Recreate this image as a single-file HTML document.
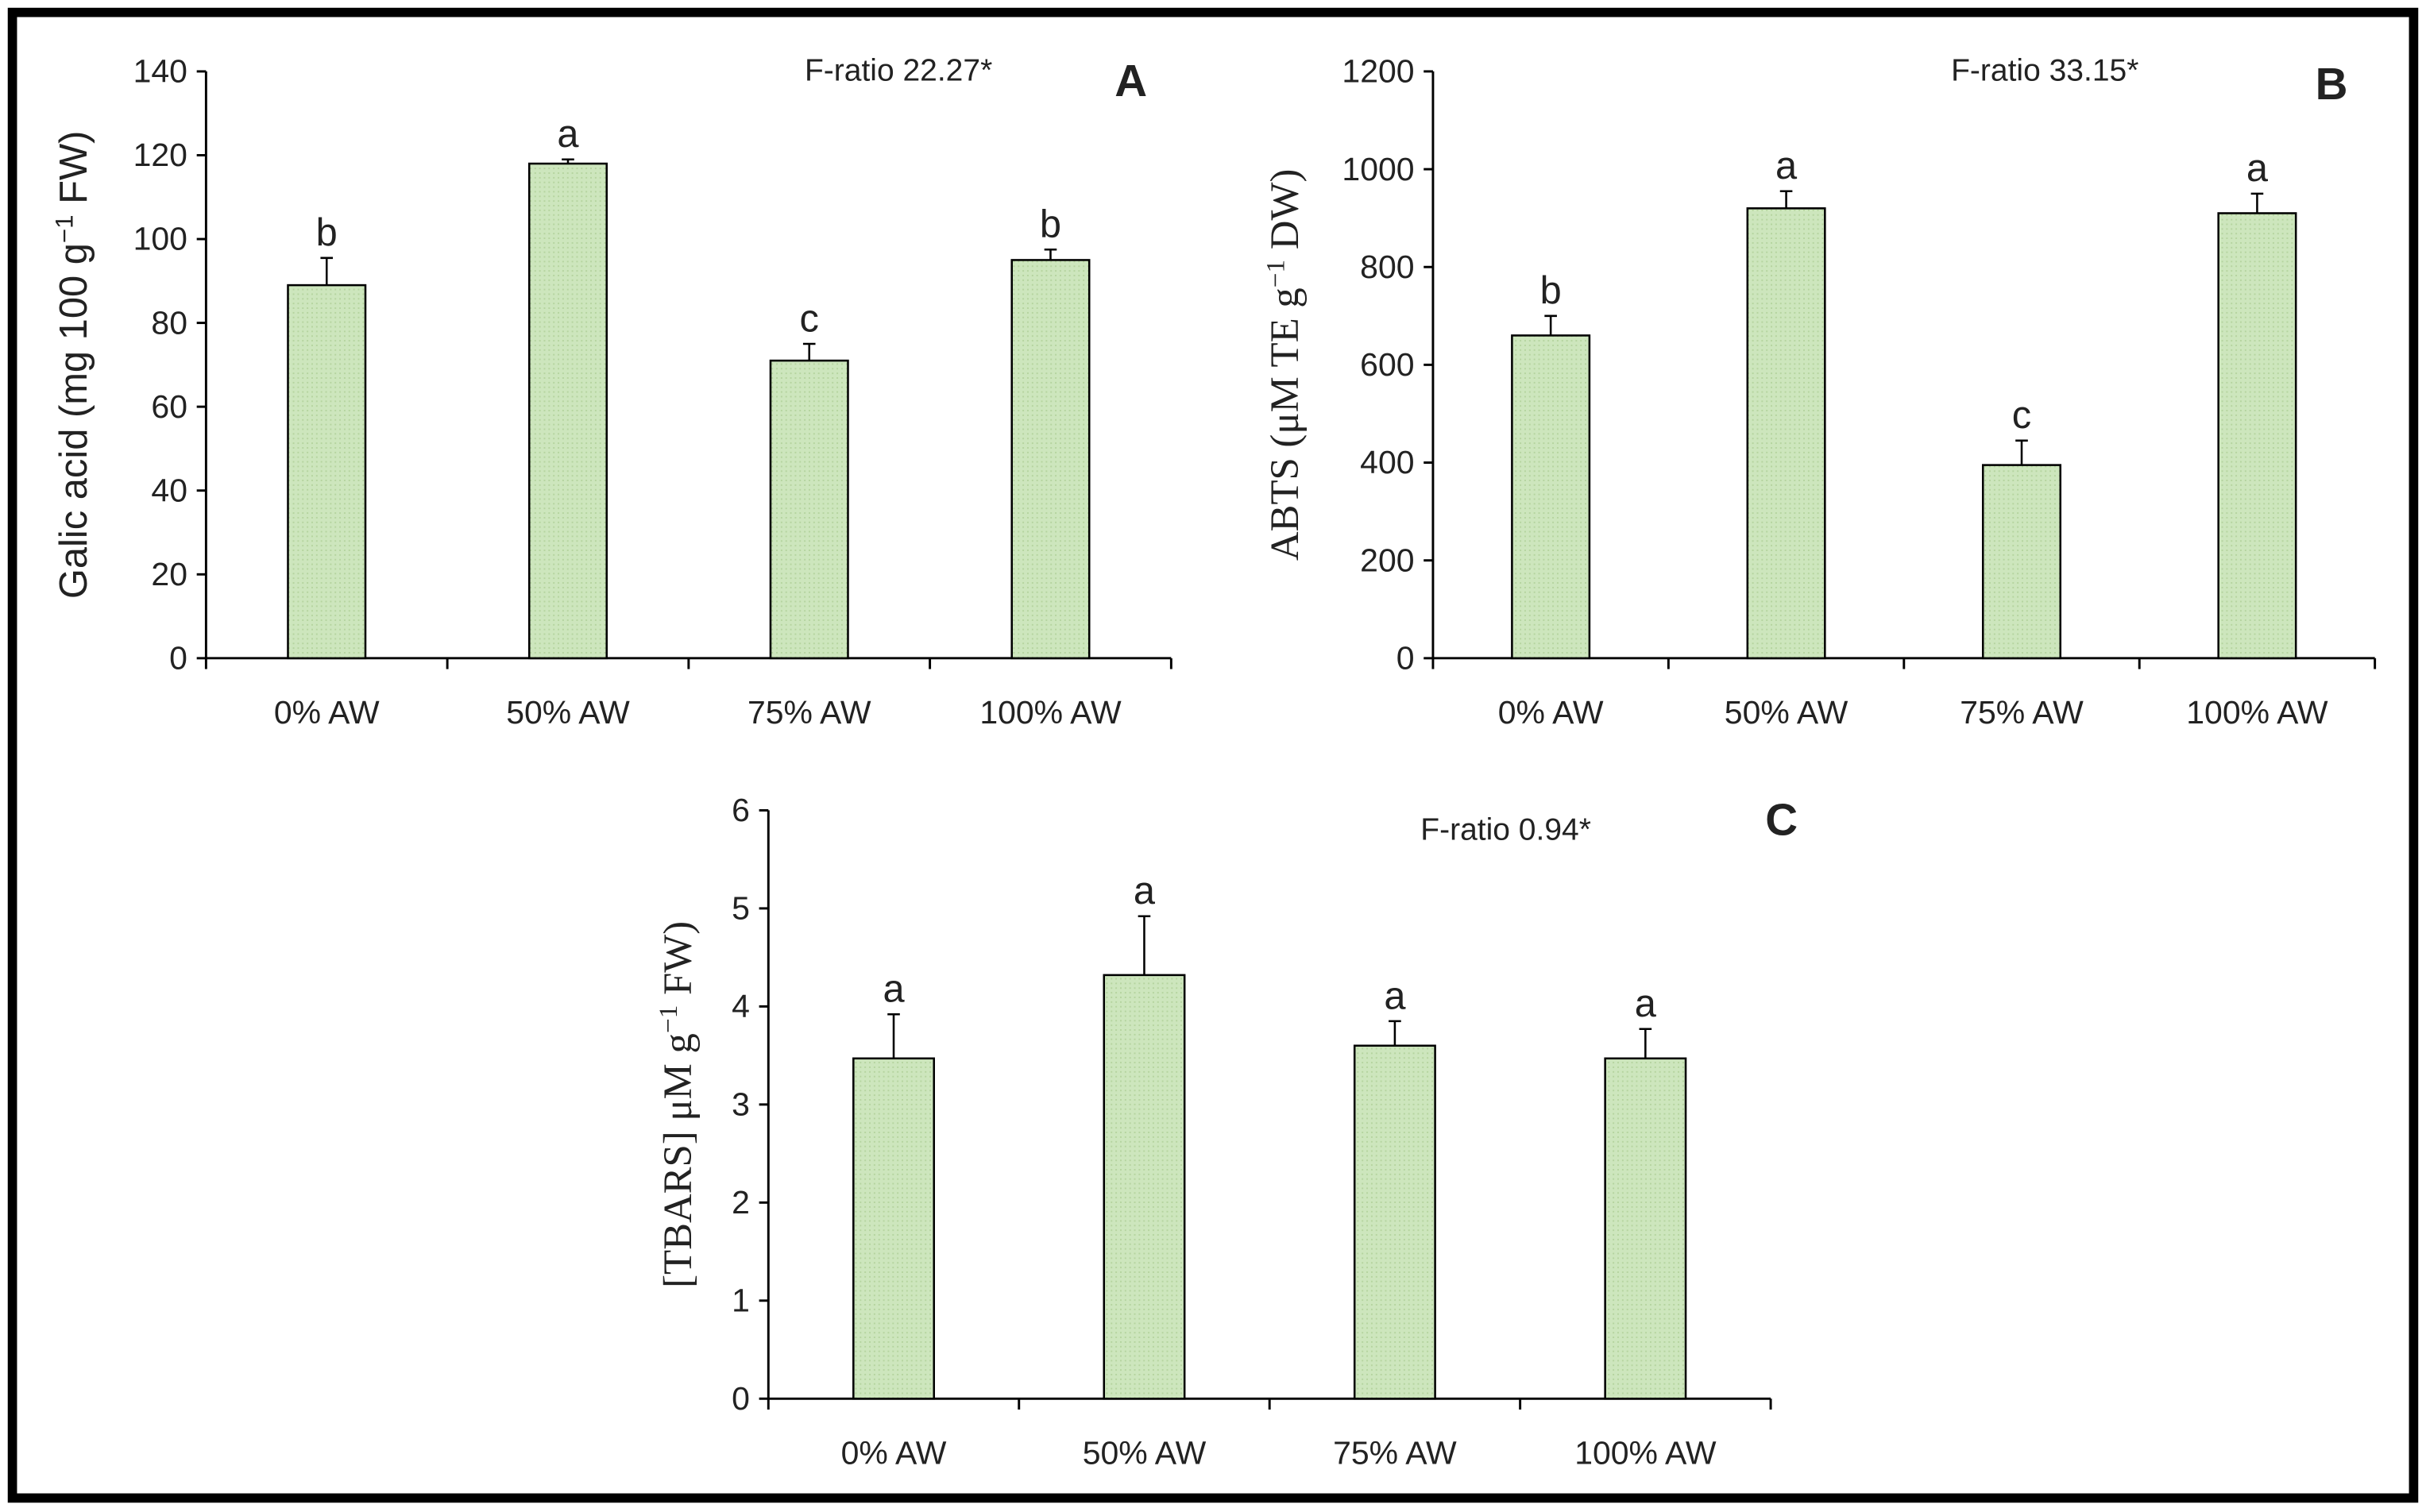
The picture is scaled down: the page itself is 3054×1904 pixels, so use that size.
<!DOCTYPE html>
<html><head><meta charset="utf-8"><style>
html,body{margin:0;padding:0;background:#fff}
svg{display:block}
text{font-family:"Liberation Sans Narrow","Liberation Sans",sans-serif;fill:#222}
.serif{font-family:"Liberation Serif",serif}
</style></head><body>
<svg id="fig" width="3054" height="1904" viewBox="0 0 1566 974" preserveAspectRatio="none" xmlns="http://www.w3.org/2000/svg">
<defs>
<pattern id="hatch" width="3" height="3" patternUnits="userSpaceOnUse">
<rect width="3" height="3" fill="#cde6bd"/><rect width="1" height="1" fill="#b5d49f"/>
</pattern>
</defs>
<rect x="8" y="8" width="1550" height="957" fill="#fff" stroke="#000" stroke-width="6"/>
<g id="chartA"></g>
<g id="chartB"></g>
<g id="chartC"></g>
</svg>
<script>
const categories = ["0% AW","50% AW","75% AW","100% AW"];
const valuesA = [89,118,71,95];
const errorsA = [6.5,1,4,2.5];
const lettersA = ["b","a","c","b"];
const ticksA = [0,20,40,60,80,100,120,140];
const valuesB = [660,920,395,910];
const errorsB = [40,35,50,40];
const lettersB = ["b","a","c","a"];
const ticksB = [0,200,400,600,800,1000,1200];
const valuesC = [3.47,4.32,3.6,3.47];
const errorsC = [0.45,0.6,0.25,0.3];
const lettersC = ["a","a","a","a"];
const ticksC = [0,1,2,3,4,5,6];

const NS="http://www.w3.org/2000/svg";
function mk(parent,tag,attrs,txt){const e=document.createElementNS(NS,tag);for(const k in attrs)e.setAttribute(k,attrs[k]);if(txt!==undefined)e.textContent=txt;parent.appendChild(e);return e;}

function drawChart(g,cfg){
  const {x0,x1,yTop,yBot,max,vals,errs,letters,ticks,barW,ylabel,ylabelX,ylabelSize,serif,fText,fX,fY,panel,pX,pY}=cfg;
  const ys=v=>yBot-(v/max)*(yBot-yTop);
  const band=(x1-x0)/categories.length;
  const xc=i=>x0+band*(i+0.5);
  let a=mk(g,'line',{x1:x0,y1:yTop,x2:x0,y2:yBot,stroke:'#000','stroke-width':1.5});
  
  
  a=mk(g,'line',{x1:x0,y1:yBot,x2:x1,y2:yBot,stroke:'#000','stroke-width':1.5});
  
  
  ticks.forEach(t=>{
    mk(g,'line',{x1:x0-6,y1:ys(t),x2:x0,y2:ys(t),stroke:'#000','stroke-width':1.5});
    const tl=mk(g,'text',{x:x0-12,y:ys(t)+7,'text-anchor':'end','font-size':21},t);
    
    
  });
  for(let i=0;i<=categories.length;i++){
    mk(g,'line',{x1:x0+band*i,y1:yBot,x2:x0+band*i,y2:yBot+7,stroke:'#000','stroke-width':1.5});
  }
  categories.forEach((c,i)=>{
    const cx=xc(i), top=ys(vals[i]), et=ys(vals[i]+errs[i]);
    const r=mk(g,'rect',{x:cx-barW/2,y:top,width:barW,height:yBot-top,fill:'url(#hatch)',stroke:'#000','stroke-width':1.3});
    
    
    const e=mk(g,'path',{d:`M${cx},${top} V${et} M${cx-4},${et} H${cx+4}`,stroke:'#000','stroke-width':1.3,fill:'none'});
    
    
    const l=mk(g,'text',{x:cx,y:et-8,'text-anchor':'middle','font-size':25},letters[i]);
    
    
    const xl=mk(g,'text',{x:cx,y:yBot+42,'text-anchor':'middle','font-size':21},c);
    
    
  });
  const ym=(yTop+yBot)/2;
  const yl=mk(g,'text',{x:ylabelX,y:ym,'text-anchor':'middle','font-size':ylabelSize,transform:`rotate(-90 ${ylabelX} ${ym})`,class:serif?'serif':''});
  yl.innerHTML=ylabel;
  
  
  const f=mk(g,'text',{x:fX,y:fY,'text-anchor':'middle','font-size':20},fText);
  
  
  const p=mk(g,'text',{x:pX,y:pY,'text-anchor':'middle','font-size':29,'font-weight':'bold',style:'font-family:"Liberation Sans",sans-serif'},panel);
  
  
}

drawChart(document.getElementById('chartA'),{x0:133,x1:756,yTop:46,yBot:424,max:140,vals:valuesA,errs:errorsA,letters:lettersA,ticks:ticksA,barW:50,
  ylabel:'Galic acid (mg 100 g<tspan dy="-9" font-size="16">−1</tspan><tspan dy="9"> FW)</tspan>',ylabelX:56,ylabelSize:25,serif:false,fText:'F-ratio  22.27*',fX:580,fY:52,panel:'A',pX:730,pY:62});
drawChart(document.getElementById('chartB'),{x0:925,x1:1533,yTop:46,yBot:424,max:1200,vals:valuesB,errs:errorsB,letters:lettersB,ticks:ticksB,barW:50,
  ylabel:'ABTS (μM TE g<tspan dy="-9" font-size="17">−1</tspan><tspan dy="9"> DW)</tspan>',ylabelX:838,ylabelSize:26,serif:true,fText:'F-ratio  33.15*',fX:1320,fY:52,panel:'B',pX:1505,pY:64});
drawChart(document.getElementById('chartC'),{x0:496,x1:1143,yTop:522,yBot:901,max:6,vals:valuesC,errs:errorsC,letters:lettersC,ticks:ticksC,barW:52,
  ylabel:'[TBARS] μM g<tspan dy="-9" font-size="17">−1</tspan><tspan dy="9"> FW)</tspan>',ylabelX:446,ylabelSize:26,serif:true,fText:'F-ratio  0.94*',fX:972,fY:541,panel:'C',pX:1150,pY:538});
</script>
</body></html>
